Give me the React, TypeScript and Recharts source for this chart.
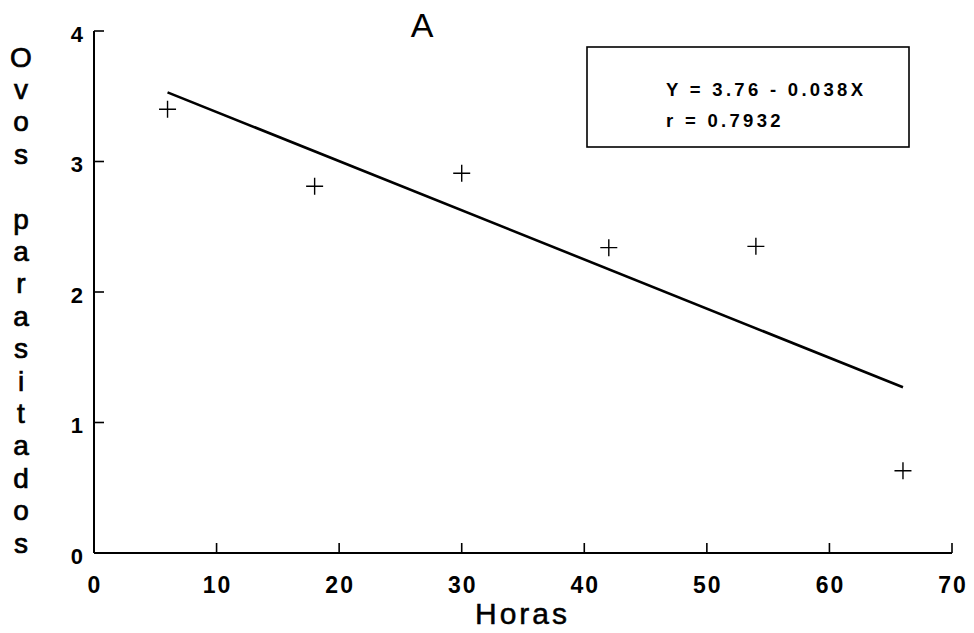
import React from "react";
import { ComposedChart, XAxis, YAxis, Scatter, Line } from "recharts";

const horas = [6, 18, 30, 42, 54, 66];
const ovos = [3.4, 2.81, 2.91, 2.34, 2.35, 0.63];
const lineX = [6, 66];
const lineY = [3.53, 1.27];
const xTicks = [0, 10, 20, 30, 40, 50, 60, 70];
const yTicks = [0, 1, 2, 3, 4];
const yLabel = "Ovos parasitados";
const eqLine1 = "Y = 3.76 - 0.038X";
const eqLine2 = "r = 0.7932";

const points = horas.map((x, i) => ({ x, y: ovos[i] }));
const regression = lineX.map((x, i) => ({ x, y: lineY[i] }));

const FONT = "'Liberation Sans', Arial, Helvetica, sans-serif";

const XTick = (props: any) => {
  const { x, y, payload } = props;
  return (
    <g>
      <line x1={x} y1={y} x2={x} y2={y - 10} stroke="#000" strokeWidth={1.6} />
      <text
        x={x + 1}
        y={y + 40}
        textAnchor="middle"
        fontFamily={FONT}
        fontWeight="bold"
        fontSize={23}
        letterSpacing={2}
        fill="#000"
      >
        {payload.value}
      </text>
    </g>
  );
};

const YTick = (props: any) => {
  const { x, y, payload } = props;
  return (
    <g>
      <line x1={x} y1={y} x2={x + 10} y2={y} stroke="#000" strokeWidth={1.6} />
      <text
        x={x - 11}
        y={y + 10.5}
        textAnchor="end"
        fontFamily={FONT}
        fontWeight="bold"
        fontSize={22}
        fill="#000"
      >
        {payload.value}
      </text>
    </g>
  );
};

const Plus = (props: any) => {
  const { cx, cy } = props;
  return (
    <path
      d={`M${cx - 8.5},${cy}h17M${cx},${cy - 8.5}v17`}
      stroke="#000"
      strokeWidth={1.4}
      fill="none"
    />
  );
};

export default function App() {
  const chars = yLabel.split("");
  return (
    <div style={{ width: 974, height: 633, margin: "-8px 0 0 -8px", background: "#fff" }}>
      <ComposedChart
        width={974}
        height={633}
        margin={{ top: 31, right: 22, bottom: 0, left: 0 }}
        style={{ background: "#fff" }}
      >
        <XAxis
          type="number"
          dataKey="x"
          domain={[0, 70]}
          ticks={xTicks}
          height={80}
          tickSize={0}
          tickMargin={0}
          tickLine={false}
          axisLine={{ stroke: "#000", strokeWidth: 2 }}
          tick={<XTick />}
          interval={0}
          allowDecimals={false}
        />
        <YAxis
          type="number"
          dataKey="y"
          domain={[0, 4]}
          ticks={yTicks}
          width={94}
          tickSize={0}
          tickMargin={0}
          tickLine={false}
          axisLine={{ stroke: "#000", strokeWidth: 2 }}
          tick={<YTick />}
          interval={0}
        />
        <Line
          data={regression}
          dataKey="y"
          type="linear"
          stroke="#000"
          strokeWidth={2.6}
          dot={false}
          activeDot={false}
          isAnimationActive={false}
        />
        <Scatter
          data={points}
          dataKey="y"
          shape={<Plus />}
          isAnimationActive={false}
        />
        <g>
          <text
            x={422}
            y={37}
            textAnchor="middle"
            fontFamily={FONT}
            fontSize={34}
            fill="#000"
          >
            A
          </text>
          <text
            x={522.5}
            y={624}
            textAnchor="middle"
            fontFamily={FONT}
            fontSize={30}
            letterSpacing={3}
            fill="#000"
            stroke="#000"
            strokeWidth={0.5}
          >
            Horas
          </text>
          <text
            fontFamily={FONT}
            fontSize={28}
            fill="#000"
            stroke="#000"
            strokeWidth={0.7}
            textAnchor="middle"
          >
            {chars.map((c, i) => (
              <tspan key={i} x={21} y={66.5 + 32.4 * i}>
                {c === " " ? "\u00a0" : c}
              </tspan>
            ))}
          </text>
          <rect
            x={587}
            y={47}
            width={322}
            height={100}
            fill="none"
            stroke="#000"
            strokeWidth={1.6}
          />
          <text
            x={666}
            y={96}
            fontFamily={FONT}
            fontWeight="bold"
            fontSize={18.5}
            letterSpacing={3.3}
            fill="#000"
          >
            {eqLine1}
          </text>
          <text
            x={666}
            y={127}
            fontFamily={FONT}
            fontWeight="bold"
            fontSize={18.5}
            letterSpacing={3.3}
            fill="#000"
          >
            {eqLine2}
          </text>
        </g>
      </ComposedChart>
    </div>
  );
}
